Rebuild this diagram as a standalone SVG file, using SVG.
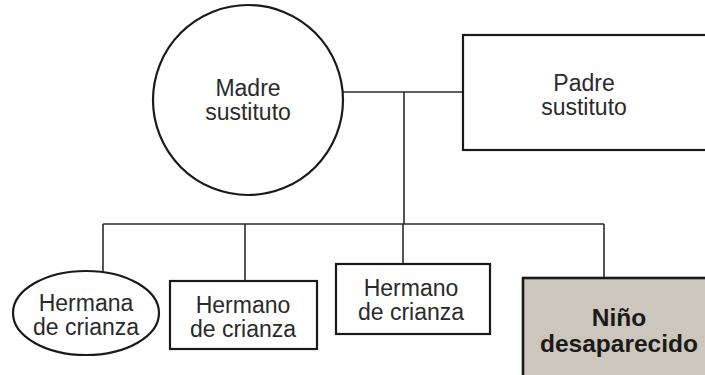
<svg xmlns="http://www.w3.org/2000/svg" width="705" height="375" viewBox="0 0 705 375">
<style>
.shape{fill:#fff;stroke:#1a1a1a;stroke-width:2.2}
.lost{fill:#cdc6bc;stroke:#1a1a1a;stroke-width:2.6}
.t{font-family:"Liberation Sans",Arial,sans-serif;font-size:23px;fill:#2a2a2a;text-anchor:middle}
.b{font-family:"Liberation Sans",Arial,sans-serif;font-size:24.5px;font-weight:bold;fill:#1a1a1a;text-anchor:middle}
.c{fill:none;stroke:#2a2a2a;stroke-width:1.6}
</style>
<rect width="705" height="375" fill="#fff"/>
<g id="connectors">
<line class="c" x1="343" y1="92" x2="463" y2="92"/>
<line class="c" x1="404" y1="92" x2="404" y2="224"/>
<line class="c" x1="103" y1="224" x2="604" y2="224"/>
<line class="c" x1="103" y1="224" x2="103" y2="272"/>
<line class="c" x1="245" y1="224" x2="245" y2="281"/>
<line class="c" x1="403" y1="224" x2="403" y2="264"/>
<line class="c" x1="604" y1="224" x2="604" y2="278"/>
</g>
<g id="madre">
<circle class="shape" cx="248" cy="100" r="95"/>
<text class="t" x="248" y="96">Madre</text>
<text class="t" x="248" y="120">sustituto</text>
</g>
<g id="padre">
<rect class="shape" x="463" y="35" width="250" height="115"/>
<text class="t" x="584" y="91">Padre</text>
<text class="t" x="584" y="115">sustituto</text>
</g>
<g id="hermana">
<ellipse class="shape" cx="86" cy="313" rx="73" ry="42"/>
<text class="t" x="86" y="311">Hermana</text>
<text class="t" x="86" y="335">de crianza</text>
</g>
<g id="hermano1">
<rect class="shape" x="170" y="281" width="147" height="68"/>
<text class="t" x="243" y="313">Hermano</text>
<text class="t" x="243" y="337">de crianza</text>
</g>
<g id="hermano2">
<rect class="shape" x="336" y="264" width="154" height="70"/>
<text class="t" x="411" y="296">Hermano</text>
<text class="t" x="411" y="320">de crianza</text>
</g>
<g id="nino">
<rect class="lost" x="523" y="278" width="200" height="110"/>
<text class="b" x="619" y="326">Niño</text>
<text class="b" x="619" y="352">desaparecido</text>
</g>
</svg>
